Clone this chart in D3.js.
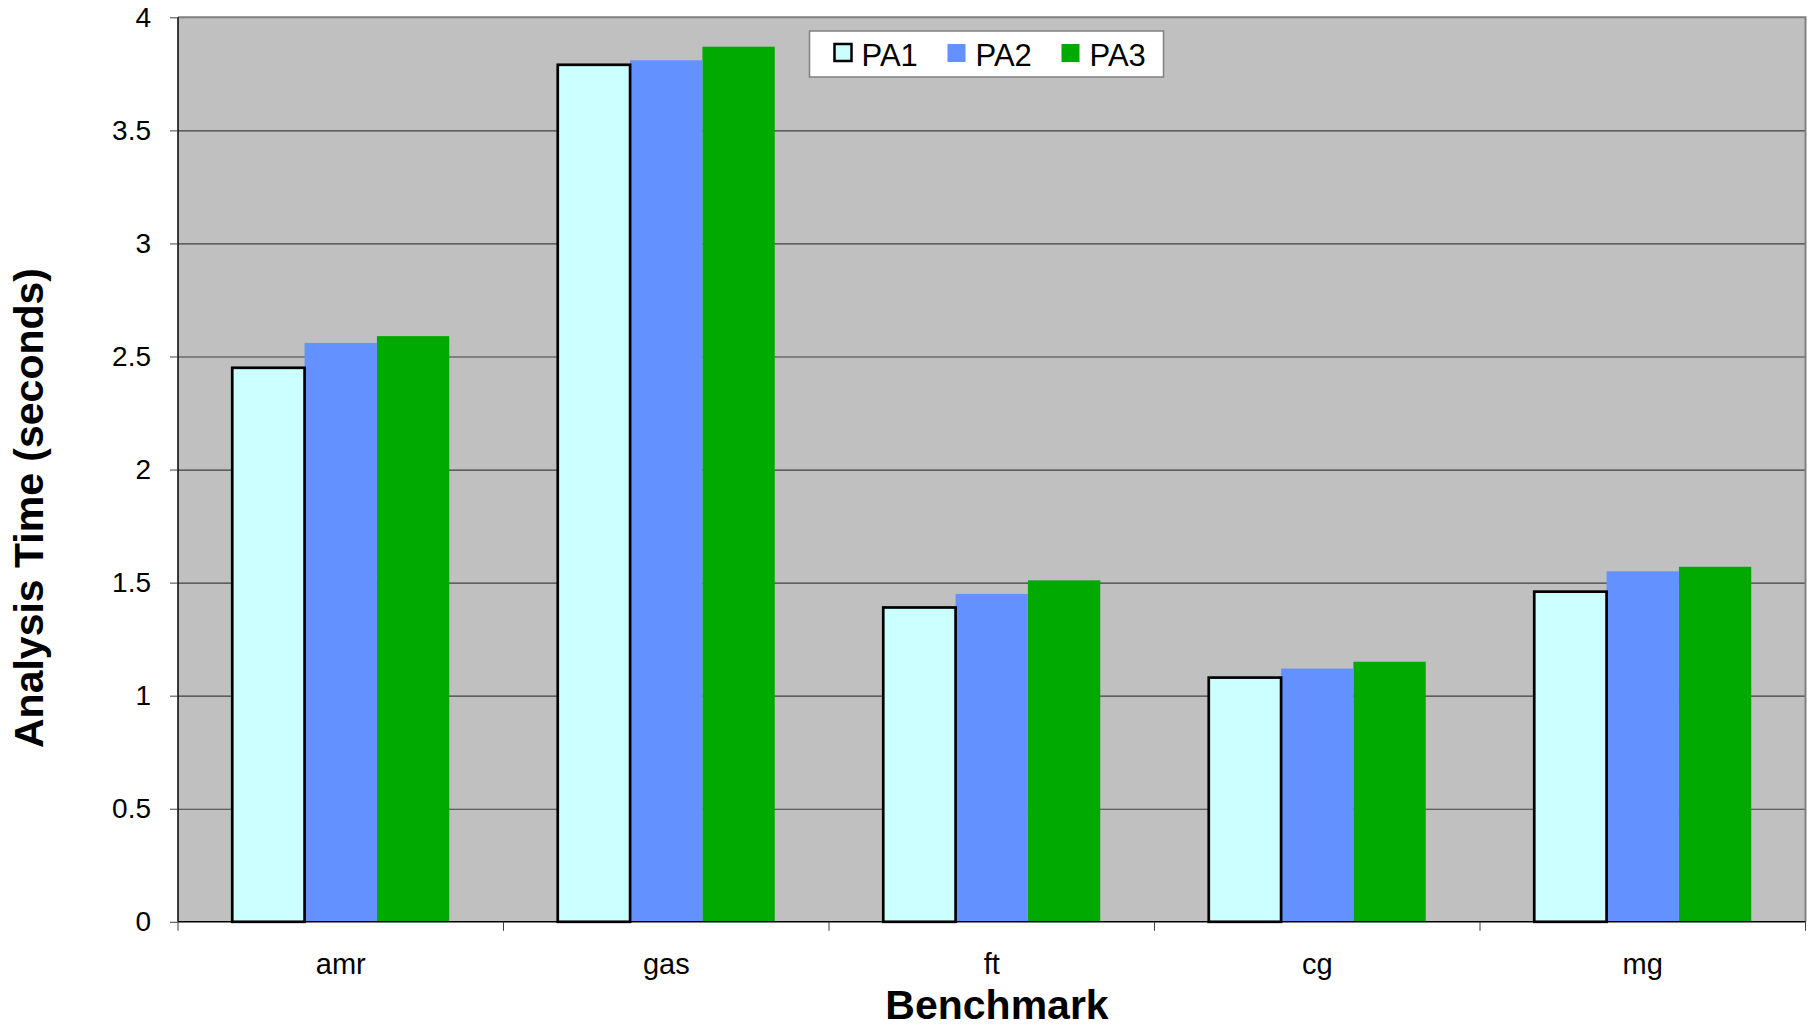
<!DOCTYPE html>
<html>
<head>
<meta charset="utf-8">
<script src="https://cdn.jsdelivr.net/npm/d3@7"></script>
<style>
  html, body { margin: 0; padding: 0; background: #ffffff; }
  svg { display: block; font-family: "Liberation Sans", Arial, sans-serif; }
</style>
</head>
<body>
<svg id="chart" width="1809" height="1028"></svg>
<script>
// Benchmarks on the x axis
const categories = ["amr", "gas", "ft", "cg", "mg"];
// Analysis configurations
const seriesNames = ["PA1", "PA2", "PA3"];
// Analysis time in seconds, one array per configuration
const pa1 = [2.45, 3.79, 1.39, 1.08, 1.46];
const pa2 = [2.56, 3.81, 1.45, 1.12, 1.55];
const pa3 = [2.59, 3.87, 1.51, 1.15, 1.57];
// Y axis tick values
const yTicks = [0, 0.5, 1, 1.5, 2, 2.5, 3, 3.5, 4];

const seriesValues = [pa1, pa2, pa3];
const colors = { PA1: "#CCFFFF", PA2: "#6391FF", PA3: "#00AA00" };

const svg = d3.select("#chart");
const plot = { left: 178, right: 1805.5, top: 17.3, bottom: 921.8 };

const y = d3.scaleLinear().domain([0, 4]).range([plot.bottom, plot.top]);
const x0 = d3.scaleBand()
  .domain(categories)
  .range([plot.left, plot.right])
  .paddingInner(1 / 3)
  .paddingOuter(1 / 6);
const x1 = d3.scaleBand().domain(seriesNames).range([0, x0.bandwidth()]).padding(0);

// Plot background
svg.append("rect")
  .attr("x", plot.left).attr("y", plot.top)
  .attr("width", plot.right - plot.left).attr("height", plot.bottom - plot.top)
  .attr("fill", "#C0C0C0");

// Horizontal gridlines
const grid = svg.append("g")
  .attr("transform", `translate(${plot.left},0)`)
  .call(d3.axisLeft(y).tickValues(yTicks.filter(t => t > 0 && t < 4))
    .tickSize(-(plot.right - plot.left)).tickFormat(""));
grid.select(".domain").remove();
grid.selectAll(".tick line").attr("stroke", "#404040").attr("stroke-width", 1.2);

// Plot border (top and right)
svg.append("path")
  .attr("d", `M${plot.left},${plot.top}H${plot.right}V${plot.bottom}`)
  .attr("fill", "none").attr("stroke", "#808080").attr("stroke-width", 2);

// Bars
const rows = categories.map((c, i) => ({
  cat: c,
  vals: seriesNames.map((s, j) => ({ key: s, value: seriesValues[j][i] }))
}));

const groups = svg.append("g").selectAll("g")
  .data(rows).join("g")
  .attr("transform", d => `translate(${x0(d.cat)},0)`);

// Filled bars first, outlined PA1 bar on top
groups.selectAll("rect")
  .data(d => d.vals.slice().reverse())
  .join("rect")
  .attr("x", d => x1(d.key))
  .attr("y", d => y(d.value))
  .attr("width", x1.bandwidth())
  .attr("height", d => y(0) - y(d.value))
  .attr("fill", d => colors[d.key])
  .attr("stroke", d => d.key === "PA1" ? "#000000" : "none")
  .attr("stroke-width", d => d.key === "PA1" ? 2.7 : 0);

// Y axis
const yAxis = svg.append("g")
  .attr("transform", `translate(${plot.left},0)`)
  .call(d3.axisLeft(y).tickValues(yTicks).tickSize(8).tickPadding(19).tickFormat(d => String(d)));
yAxis.select(".domain").attr("stroke", "#000000").attr("stroke-width", 1.5)
  .attr("d", `M0,${plot.top}V${plot.bottom}`);
yAxis.selectAll(".tick line").attr("stroke", "#404040");
yAxis.selectAll(".tick text")
  .attr("font-size", 28).attr("fill", "#000000")
  .attr("font-family", "'Liberation Sans', Arial, sans-serif");

// X axis: labels at category centres, ticks at category boundaries
const xAxis = svg.append("g")
  .attr("transform", `translate(0,${plot.bottom})`)
  .call(d3.axisBottom(x0).tickSize(0).tickPadding(32));
xAxis.select(".domain").attr("stroke", "#000000").attr("stroke-width", 1.5)
  .attr("d", `M${plot.left},0H${plot.right}`);
xAxis.selectAll(".tick text")
  .attr("font-size", 29).attr("fill", "#000000")
  .attr("font-family", "'Liberation Sans', Arial, sans-serif");

const step = x0.step();
const bounds = d3.range(categories.length + 1).map(i => plot.left + i * step);
svg.append("g").selectAll("line")
  .data(bounds).join("line")
  .attr("x1", d => d).attr("x2", d => d)
  .attr("y1", plot.bottom).attr("y2", plot.bottom + 9)
  .attr("stroke", "#404040").attr("stroke-width", 1);

// Axis titles
svg.append("text")
  .attr("transform", "translate(43,508) rotate(-90)")
  .attr("text-anchor", "middle")
  .attr("font-size", 41).attr("font-weight", "bold")
  .text("Analysis Time (seconds)");

svg.append("text")
  .attr("x", 997).attr("y", 1019)
  .attr("text-anchor", "middle")
  .attr("font-size", 41).attr("font-weight", "bold")
  .text("Benchmark");

// Legend
const legend = svg.append("g").attr("transform", "translate(809.5,31)");
legend.append("rect")
  .attr("width", 354).attr("height", 46)
  .attr("fill", "#ffffff").attr("stroke", "#808080").attr("stroke-width", 1.5);

const items = legend.selectAll("g.item")
  .data(seriesNames).join("g")
  .attr("class", "item")
  .attr("transform", (d, i) => `translate(${24 + i * 114},0)`);

items.append("rect")
  .attr("x", d => d === "PA1" ? 1 : 0)
  .attr("y", 13)
  .attr("width", d => d === "PA1" ? 17 : 18)
  .attr("height", d => d === "PA1" ? 17 : 18)
  .attr("fill", d => colors[d])
  .attr("stroke", d => d === "PA1" ? "#000000" : "none")
  .attr("stroke-width", 2.5);

items.append("text")
  .attr("x", 28).attr("y", 34.5)
  .attr("font-size", 31).attr("fill", "#000000")
  .text(d => d);
</script>
</body>
</html>
